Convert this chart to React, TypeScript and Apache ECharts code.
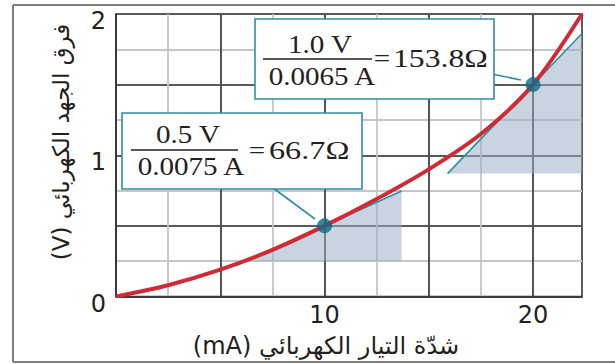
import React, { useEffect, useRef } from 'react';
import * as echarts from 'echarts';

// ---- data ----
const currentMA = [0, 2.5, 5, 7.5, 10, 12.5, 15, 17.5, 20, 22.35];
const voltageV = [0, 0.08, 0.19, 0.33, 0.5, 0.69, 0.9, 1.15, 1.5, 2.0];
const pointCurrent = [10, 20];
const pointVoltage = [0.5, 1.5];
const tangentCurrent1 = [6.25, 13.7];
const tangentVoltage1 = [0.25, 0.747];
const tangentCurrent2 = [15.9, 22.35];
const tangentVoltage2 = [0.87, 1.862];
const xTickLabels = [10, 20];
const yTickLabels = [0, 1, 2];
const xTitle = '(mA) شدّة التيار الكهربائي';
const yTitle = '(V) فرق الجهد الكهربائي';
const box1Num = '1.0 V';
const box1Den = '0.0065 A';
const box1Res = '153.8Ω';
const box2Num = '0.5 V';
const box2Den = '0.0075 A';
const box2Res = '66.7Ω';

const TEAL = '#2f8ca2';
const DOT = '#0c6a84';
const RED = '#cf2a36';
const SERIF = '26px "Liberation Serif"';
const DARK = '#363636';
const LIGHT = '#c6c6c6';

function fracText(x: number, y: number, text: string, align = 'center', sx = 1.12) {
  return {
    type: 'text',
    x,
    y,
    scaleX: sx,
    z: 102,
    style: { text, x: 0, y: 0, align, verticalAlign: 'middle', font: SERIF, fill: '#231f20' },
  };
}

export default function App() {
  const ref = useRef<HTMLDivElement>(null);
  useEffect(() => {
    if (!ref.current) return;
    const chart = echarts.init(ref.current, undefined, { renderer: 'svg' });
    const curve = currentMA.map((c, i) => [c, voltageV[i]]);
    const dots = pointCurrent.map((c, i) => [c, pointVoltage[i]]);
    const tri = [
      [tangentCurrent1[0], tangentVoltage1[0], tangentCurrent1[1], tangentVoltage1[1]],
      [tangentCurrent2[0], tangentVoltage2[0], tangentCurrent2[1], tangentVoltage2[1]],
    ];
    const xMax = 22.35;
    chart.setOption({
      animation: false,
      grid: {
        left: 116,
        top: 14,
        width: 466,
        height: 282.5,
        show: true,
        borderColor: '#333',
        borderWidth: 1.6,
        backgroundColor: 'transparent',
      },
      xAxis: [
        {
          type: 'value',
          min: 0,
          max: xMax,
          interval: 2.5,
          axisLine: { show: true, lineStyle: { color: '#333', width: 1.6 } },
          axisTick: { show: false },
          splitLine: { show: true, showMaxLine: false, lineStyle: { color: LIGHT, width: 1.8 } },
          axisLabel: {
            margin: 6,
            color: '#231f20',
            fontFamily: 'DejaVu Sans',
            fontSize: 24,
            hideOverlap: false,
            showMaxLabel: false,
            formatter: (v: number) => (xTickLabels.includes(v) ? String(v) : ''),
          },
        },
        {
          type: 'value',
          position: 'bottom',
          min: 0,
          max: xMax,
          interval: 5,
          axisLine: { show: false },
          axisTick: { show: false },
          axisLabel: { show: false },
          splitLine: { show: true, showMaxLine: false, lineStyle: { color: DARK, width: 1.6 } },
        },
      ],
      yAxis: [
        {
          type: 'value',
          min: 0,
          max: 2,
          interval: 0.25,
          axisLine: { show: true, lineStyle: { color: '#333', width: 1.6 } },
          axisTick: { show: false },
          splitLine: { show: true, lineStyle: { color: LIGHT, width: 1.8 } },
          axisLabel: {
            margin: 10,
            color: '#231f20',
            fontFamily: 'DejaVu Sans',
            fontSize: 24,
            verticalAlign: 'top',
            lineHeight: 14,
            formatter: (v: number) => (yTickLabels.includes(v) ? String(v) : ''),
          },
        },
        {
          type: 'value',
          position: 'left',
          min: 0,
          max: 2,
          interval: 0.5,
          axisLine: { show: false },
          axisTick: { show: false },
          axisLabel: { show: false },
          splitLine: { show: true, lineStyle: { color: DARK, width: 1.6 } },
        },
      ],
      series: [
        {
          type: 'custom',
          data: tri,
          encode: { x: [0, 2], y: [1, 3] },
          clip: true,
          z: 1,
          renderItem: (params: any, api: any) => {
            const p1 = api.coord([api.value(0), api.value(1)]);
            const p2 = api.coord([api.value(2), api.value(1)]);
            const p3 = api.coord([api.value(2), api.value(3)]);
            return {
              type: 'polygon',
              shape: { points: [p1, p2, p3] },
              style: { fill: 'rgba(150,175,197,0.52)' },
            };
          },
        },
        {
          type: 'line',
          data: tangentCurrent1.map((c, i) => [c, tangentVoltage1[i]]),
          showSymbol: false,
          lineStyle: { color: TEAL, width: 1.6 },
          z: 2,
        },
        {
          type: 'line',
          data: tangentCurrent2.map((c, i) => [c, tangentVoltage2[i]]),
          showSymbol: false,
          lineStyle: { color: TEAL, width: 1.6 },
          z: 2,
        },
        {
          type: 'line',
          data: curve,
          smooth: 0.3,
          showSymbol: false,
          lineStyle: { color: RED, width: 4 },
          z: 3,
        },
        {
          type: 'scatter',
          data: dots,
          symbolSize: 15,
          itemStyle: { color: DOT },
          z: 4,
        },
      ],
      graphic: [
        // outer frame
        { type: 'line', shape: { x1: 13, y1: 5, x2: 615, y2: 5 }, style: { stroke: '#555', lineWidth: 1.5 } },
        { type: 'line', shape: { x1: 13, y1: 5, x2: 13, y2: 362 }, style: { stroke: '#555', lineWidth: 1.5 } },
        { type: 'line', shape: { x1: 13, y1: 362, x2: 615, y2: 362 }, style: { stroke: '#555', lineWidth: 1.5 } },
        // leader lines
        { type: 'line', z: 99, shape: { x1: 492, y1: 74, x2: 521, y2: 80 }, style: { stroke: TEAL, lineWidth: 1.6 } },
        { type: 'line', z: 99, shape: { x1: 273, y1: 188, x2: 315, y2: 219 }, style: { stroke: TEAL, lineWidth: 1.6 } },
        // box 1
        { type: 'rect', z: 100, shape: { x: 255, y: 19, width: 239, height: 80 }, style: { fill: '#fff', stroke: TEAL, lineWidth: 1.6 } },
        fracText(320, 44, box1Num),
        { type: 'line', z: 102, shape: { x1: 263, y1: 59, x2: 372, y2: 59 }, style: { stroke: '#231f20', lineWidth: 1.3 } },
        fracText(322, 76, box1Den),
        fracText(382, 58, '='),
        fracText(393, 58, box1Res, 'left', 1.22),
        // box 2
        { type: 'rect', z: 100, shape: { x: 122, y: 113, width: 240, height: 76 }, style: { fill: '#fff', stroke: TEAL, lineWidth: 1.6 } },
        fracText(188, 134, box2Num),
        { type: 'line', z: 102, shape: { x1: 131, y1: 150, x2: 238, y2: 150 }, style: { stroke: '#231f20', lineWidth: 1.3 } },
        fracText(191, 166.5, box2Den),
        fracText(257, 150, '='),
        fracText(269, 150, box2Res, 'left', 1.24),
        // axis titles
        {
          type: 'text',
          x: 326,
          y: 346,
          style: { text: xTitle, x: 0, y: 0, align: 'center', verticalAlign: 'middle', font: '24px "DejaVu Sans"', fill: '#231f20' },
        },
        {
          type: 'text',
          x: 61,
          y: 142,
          rotation: Math.PI / 2,
          style: { text: yTitle, x: 0, y: 0, align: 'center', verticalAlign: 'middle', font: '23px "DejaVu Sans"', fill: '#231f20' },
        },
      ],
    });
    return () => chart.dispose();
  }, []);
  return (
    <div
      ref={ref}
      style={{ position: 'absolute', left: 0, top: 0, width: 615, height: 364, background: '#fff' }}
    />
  );
}
